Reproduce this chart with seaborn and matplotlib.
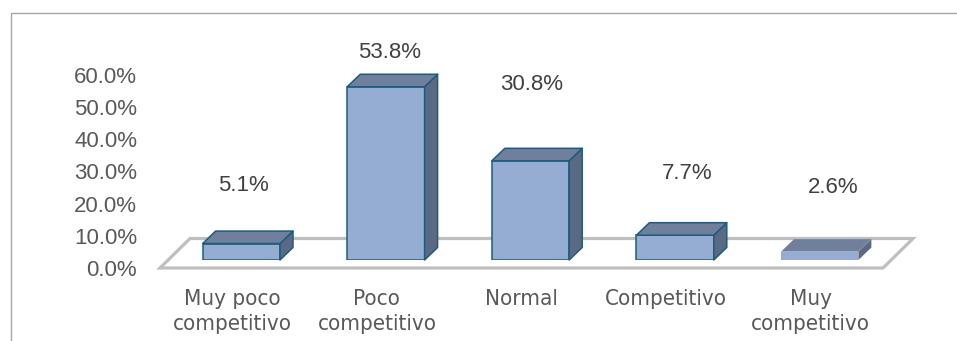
import matplotlib
matplotlib.use("Agg")
import matplotlib.pyplot as plt
from matplotlib.patches import Polygon, Rectangle
from matplotlib.transforms import ScaledTranslation
import numpy as np
import pandas as pd
import seaborn as sns

# --- data -------------------------------------------------------------
categories = ["Muy poco\ncompetitivo", "Poco\ncompetitivo", "Normal",
              "Competitivo", "Muy\ncompetitivo"]
percentages = [5.1, 53.8, 30.8, 7.7, 2.6]
ytick_values = [0, 10, 20, 30, 40, 50, 60]

# --- styling ----------------------------------------------------------
FRONT = "#95ADD3"
TOP = "#6F7F9C"
SIDE = "#5B6A84"
EDGE = "#1D5C7E"
bar_outlined = [True, True, True, True, False]
# label nudges (pixels) relative to the top-centre of each bar's front face
label_nudge_px = [(2, 58), (4, 34), (1.5, 76), (12, 62), (13.5, 64)]

DPI = 100
W, H = 957, 341
sns.set_theme(style="white")
plt.rcParams["font.family"] = ["Liberation Sans", "DejaVu Sans"]

fig = plt.figure(figsize=(W / DPI, H / DPI), dpi=DPI)

# axes placed so one category = 144.6 px and 10 % = 32.2 px
ax_left, ax_right = 169, 892
ax_base, ax_top = 260, 66.8
ax = fig.add_axes([ax_left / W, (H - ax_base) / H,
                   (ax_right - ax_left) / W, (ax_base - ax_top) / H])

df = pd.DataFrame({"cat": categories, "pct": percentages})
sns.barplot(data=df, x="cat", y="pct", ax=ax, color=FRONT, width=0.535,
            saturation=1, edgecolor=EDGE, linewidth=1.1, zorder=3)
ax.set_xlim(-0.5, len(categories) - 0.5)
ax.set_ylim(0, 60)

px_x = (ax_right - ax_left) / len(categories)  # pixels per category unit
px_y = (ax_base - ax_top) / 60.0                # pixels per percent

# depth of the bars (pixels)
dxp, dyp = 13, 12.5
dx, dy = dxp / px_x, dyp / px_y

# floor parallelogram (pixels, relative to the bar base line)
fl_front_dy, fl_back_dy = 8, -21.5
fl_front_dx, fl_back_dx = -9, 21
def to_data(px, py):
    return ((px - ax_left) / px_x - 0.5, (ax_base - py) / px_y)
floor = [to_data(ax_left + fl_front_dx, ax_base + fl_front_dy),
         to_data(ax_right + fl_front_dx, ax_base + fl_front_dy),
         to_data(ax_right + fl_back_dx, ax_base + fl_back_dy),
         to_data(ax_left + fl_back_dx, ax_base + fl_back_dy)]
ax.add_patch(Polygon(floor, closed=True, facecolor="white",
                     edgecolor="#BFBFBF", linewidth=2.3, zorder=1,
                     clip_on=False))

# 3-D top and side faces built on each seaborn bar
for patch, outlined, val, nudge in zip(ax.patches[:len(percentages)],
                                       bar_outlined, percentages,
                                       label_nudge_px):
    x0 = patch.get_x()
    x1 = x0 + patch.get_width()
    h = patch.get_height()
    ec = EDGE if outlined else "none"
    lw = 1.1 if outlined else 0
    if not outlined:
        patch.set_edgecolor("none")
        patch.set_linewidth(0)
    top = Polygon([(x0, h), (x1, h), (x1 + dx, h + dy), (x0 + dx, h + dy)],
                  closed=True, facecolor=TOP, edgecolor=ec, linewidth=lw,
                  zorder=4, clip_on=False, joinstyle="round")
    side = Polygon([(x1, 0), (x1, h), (x1 + dx, h + dy), (x1 + dx, dy)],
                   closed=True, facecolor=SIDE, edgecolor=ec, linewidth=lw,
                   zorder=4, clip_on=False, joinstyle="round")
    ax.add_patch(side)
    ax.add_patch(top)
    xc = (x0 + x1) / 2
    ax.text(xc + nudge[0] / px_x, h + nudge[1] / px_y, f"{val:.1f}%",
            ha="center", va="center", fontsize=16, color="#404040",
            clip_on=False, zorder=5)

# axis styling
for s in ax.spines.values():
    s.set_visible(False)
ax.set_xlabel("")
ax.set_ylabel("")
ax.set_yticks(ytick_values)
ax.set_yticklabels([f"{v:.1f}%" for v in ytick_values])
ax.tick_params(axis="y", length=0, pad=23, labelsize=16, labelcolor="#595959")
ax.tick_params(axis="x", length=0, pad=21, labelsize=16, labelcolor="#595959")
for lab in ax.get_yticklabels():
    lab.set_transform(lab.get_transform()
                      + ScaledTranslation(0, -8 / DPI, fig.dpi_scale_trans))
for lab in ax.get_xticklabels():
    lab.set_transform(lab.get_transform()
                      + ScaledTranslation(-9 / DPI, 0, fig.dpi_scale_trans))
    lab.set_family(["DejaVu Sans"])
    lab.set_stretch("condensed")
    lab.set_linespacing(1.3)
ax.grid(False)
ax.set_facecolor("none")

# chart frame
fig.patches.append(Rectangle((11 / W, -0.1), 1.2, (H - 13) / H + 0.1,
                             transform=fig.transFigure, fill=False,
                             edgecolor="#A6A6A6", linewidth=1.0))

fig.savefig("out.png", dpi=DPI)
